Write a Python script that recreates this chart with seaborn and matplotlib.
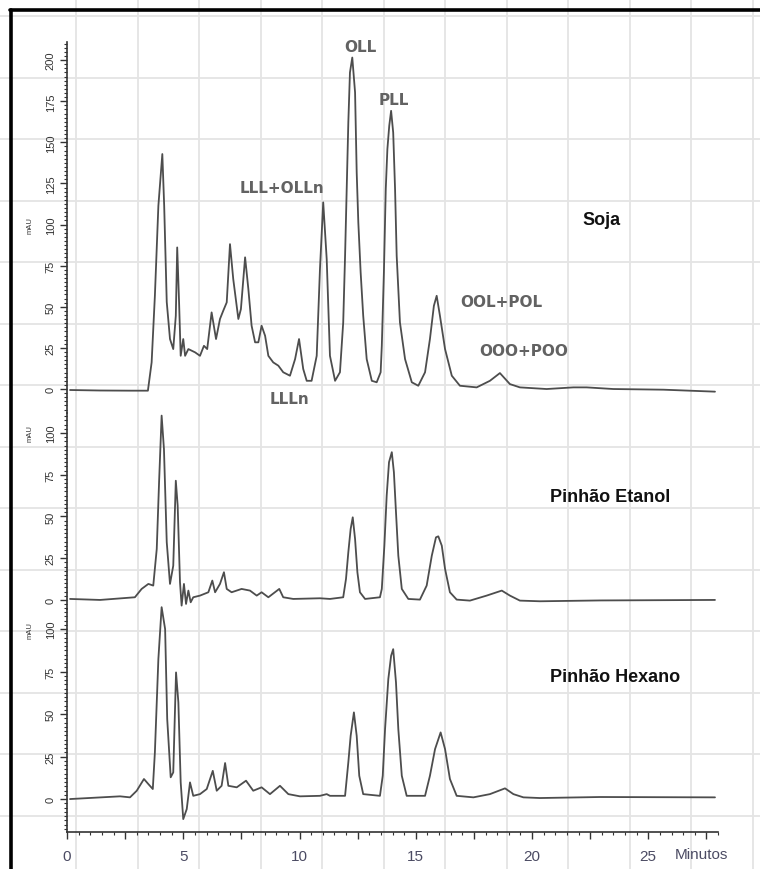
import numpy as np
import pandas as pd
import matplotlib
matplotlib.use('Agg')
import matplotlib.pyplot as plt
import matplotlib.ticker as mticker
import matplotlib.transforms as mtrans
import seaborn as sns

# retention time (min) and absorbance (mAU)
soja_t = [0.13, 1.42, 2.71, 3.48, 3.64, 3.78, 3.93, 4.10, 4.18, 4.29, 4.43, 4.57, 4.68, 4.74, 4.82,
          4.89, 5.00, 5.08, 5.22, 5.51, 5.72, 5.89, 6.03, 6.22, 6.41, 6.58, 6.72, 6.87, 7.01, 7.15,
          7.37, 7.48, 7.66, 7.80, 7.94, 8.09, 8.23, 8.37, 8.52, 8.66, 8.87, 9.09, 9.30, 9.59, 9.81,
          9.98, 10.16, 10.31, 10.52, 10.74, 10.88, 11.02, 11.17, 11.31, 11.53, 11.74, 11.88, 11.96,
          12.03, 12.10, 12.17, 12.27, 12.39, 12.46, 12.53, 12.63, 12.74, 12.89, 13.11, 13.32, 13.49,
          13.54, 13.63, 13.71, 13.78, 13.86, 13.94, 14.03, 14.11, 14.18, 14.32, 14.54, 14.83, 15.11,
          15.40, 15.61, 15.78, 15.90, 16.04, 16.26, 16.55, 16.90, 17.62, 18.19, 18.62, 19.05, 19.48,
          20.63, 21.78, 22.35, 23.50, 25.65, 27.87]
soja_mau = [-0.6, -0.9, -1.0, -1.0, 16.2, 56.7, 111.4, 142.9, 111.4, 52.9, 30.4, 24.3, 44.6, 86.1, 52.9,
            20.2, 30.4, 20.2, 24.3, 22.3, 20.2, 26.3, 24.3, 46.6, 30.4, 42.6, 47.6, 52.7, 88.1, 66.9,
            42.6, 48.6, 80.1, 60.8, 38.5, 28.4, 28.4, 38.5, 32.4, 20.2, 16.2, 14.2, 10.2, 8.1, 18.2,
            30.4, 12.2, 5.0, 5.0, 20.2, 72.9, 113.5, 79.0, 20.2, 5.0, 10.2, 40.5, 81.0,
            121.6, 162.1, 192.5, 201.6, 180.4, 131.7, 101.3, 70.9, 44.6, 18.2, 5.0, 4.1, 10.2,
            26.3, 70.9, 121.6, 145.9, 160.1, 169.2, 156.0, 121.6, 81.0, 40.5, 18.2, 4.1, 2.0,
            10.2, 30.4, 50.6, 56.7, 44.6, 24.3, 8.1, 2.0, 1.0, 5.0, 9.7, 3.0, 1.0,
            0.0, 1.0, 1.0, 0.0, -0.4, -1.6]

etanol_t = [0.13, 1.42, 2.92, 3.21, 3.50, 3.71, 3.86, 3.96, 4.07, 4.17, 4.29, 4.43, 4.57, 4.68, 4.76,
            4.86, 4.93, 5.03, 5.12, 5.22, 5.32, 5.43, 5.72, 6.08, 6.25, 6.37, 6.58, 6.75, 6.87, 7.08,
            7.51, 7.87, 8.16, 8.37, 8.66, 9.13, 9.30, 9.73, 10.88, 11.31, 11.88, 12.00, 12.10, 12.20,
            12.29, 12.39, 12.49, 12.60, 12.82, 13.46, 13.54, 13.65, 13.75, 13.85, 13.97, 14.06, 14.15,
            14.25, 14.40, 14.68, 15.18, 15.47, 15.69, 15.87, 15.97, 16.12, 16.26, 16.47, 16.76, 17.33,
            18.05, 18.70, 19.05, 19.48, 20.34, 22.93, 27.87]
etanol_mau = [0.6, 0.0, 1.6, 6.6, 9.6, 8.6, 30.5, 70.5, 110.4, 90.4, 34.6, 9.6, 20.5, 71.4, 56.5,
              10.6, -3.4, 9.6, -2.4, 5.6, -1.4, 1.6, 2.6, 4.6, 11.6, 4.6, 9.6, 16.6, 6.6, 4.6,
              6.6, 5.6, 2.6, 4.6, 1.6, 6.6, 1.6, 0.6, 1.0, 0.6, 1.6, 12.6, 28.6, 42.5,
              49.5, 36.5, 16.6, 4.6, 0.6, 1.6, 6.6, 32.5, 62.5, 82.5, 88.5, 76.5, 52.5,
              26.5, 6.6, 0.6, 0.2, 8.6, 26.5, 37.5, 38.1, 32.5, 18.6, 4.6, 0.2, -0.4,
              2.6, 5.6, 2.6, -0.4, -0.8, -0.3, 0.0]

hexano_t = [0.13, 2.28, 2.71, 3.00, 3.31, 3.50, 3.69, 3.78, 3.93, 4.07, 4.22, 4.31, 4.46, 4.57, 4.69,
            4.79, 4.89, 5.00, 5.15, 5.29, 5.43, 5.72, 6.01, 6.27, 6.44, 6.65, 6.80, 6.94, 7.30, 7.70,
            8.01, 8.37, 8.73, 9.16, 9.52, 10.02, 10.88, 11.17, 11.31, 11.96, 12.10, 12.20, 12.34, 12.46,
            12.57, 12.74, 13.46, 13.58, 13.68, 13.82, 13.94, 14.03, 14.15, 14.25, 14.40, 14.61, 15.40,
            15.61, 15.83, 16.07, 16.26, 16.47, 16.76, 17.48, 18.19, 18.84, 19.20, 19.63, 20.34, 22.92,
            27.87]
hexano_mau = [0.0, 1.6, 1.0, 4.9, 11.8, 8.8, 5.9, 27.5, 82.4, 112.9, 100.0, 47.1, 12.8, 15.7, 74.5,
              56.9, 9.8, -11.8, -5.9, 9.8, 1.9, 2.9, 5.9, 16.6, 4.9, 7.8, 21.2, 7.8, 6.9, 10.8,
              4.9, 6.9, 2.9, 7.8, 2.9, 1.6, 1.9, 2.9, 1.9, 1.9, 21.6, 37.2, 51.0, 37.2,
              13.7, 2.9, 1.9, 13.7, 41.2, 70.6, 84.3, 88.2, 68.6, 41.2, 13.7, 1.9, 1.9,
              13.7, 29.4, 39.2, 29.4, 11.8, 1.9, 1.0, 2.9, 6.3, 2.9, 1.0, 0.6, 1.2,
              1.0]

sample_names = ['Soja', 'Pinhão Etanol', 'Pinhão Hexano']
ytick_max = [200, 100, 100]

# peak assignments on the soja trace: label, time, mAU
peak_labels = ['OLL', 'PLL', 'LLL+OLLn', 'LLLn', 'OOL+POL', 'OOO+POO']
peak_t = [12.6, 14.04, 9.23, 9.59, 18.67, 19.63]
peak_mau = [208.5, 176.3, 122.8, -5.5, 53.5, 23.7]

sns.set_style('white')
plt.rcParams['font.family'] = ['Liberation Sans', 'DejaVu Sans']

fig = plt.figure(figsize=(7.6, 8.7), dpi=100)

# spreadsheet cells behind the chart
bg = fig.add_axes([0, 0, 1, 1], zorder=0)
bg.set_xlim(0, 760)
bg.set_ylim(870, 0)
bg.axis('off')
for yy in np.arange(17, 870, 61.5):
    bg.axhline(yy, color='#e4e4e4', lw=1.3)
for xx in np.arange(76, 760, 61.5):
    bg.axvline(xx, color='#e4e4e4', lw=1.3)
bg.axhline(11, xmin=10 / 760, color='black', lw=2.6)
bg.axvline(11, ymin=0, ymax=859 / 870, color='black', lw=2.6)

left, width = 67 / 760, 651 / 760
rects = [[left, 0.5241, width, 0.4264],
         [left, 0.2989, width, 0.2253],
         [left, 0.0425, width, 0.2563]]
ylims = [(-14.6, 211), (-5.4, 112), (-19.4, 111.8)]
name_pos = [(22.19, 103.3), (20.77, 61.7), (20.77, 72.4)]
traces = [(soja_t, soja_mau), (etanol_t, etanol_mau), (hexano_t, hexano_mau)]

axes = []
for i, (t, mau) in enumerate(traces):
    ax = fig.add_axes(rects[i], zorder=1)
    ax.set_facecolor('none')
    df = pd.DataFrame({'t': t, 'mAU': mau})
    sns.lineplot(data=df, x='t', y='mAU', ax=ax, color='#4d4d4d', lw=1.3,
                 estimator=None, sort=False, clip_on=False)
    ax.set_xlim(0, 28)
    ax.set_ylim(*ylims[i])
    ax.set_xlabel('')
    ax.set_ylabel('')
    for s in ['top', 'right', 'bottom']:
        ax.spines[s].set_visible(False)
    ax.spines['left'].set_color('#333333')
    ax.spines['left'].set_linewidth(1.2)

    ax.yaxis.set_major_locator(mticker.FixedLocator(range(0, ytick_max[i] + 1, 25)))
    ax.yaxis.set_minor_locator(mticker.MultipleLocator(2.5))
    ax.tick_params(axis='y', which='major', left=True, direction='out', length=5, width=1,
                   labelsize=8, pad=3, colors='#333333', labelrotation=90)
    ax.tick_params(axis='y', which='minor', left=True, direction='out', length=2.5, width=0.8,
                   colors='#333333')
    for lab in ax.get_yticklabels():
        lab.set_va('center')

    ax.text(-0.057, 100, 'mAU', transform=ax.get_yaxis_transform(), rotation=90,
            fontsize=5.5, color='#333333', ha='center', va='center')
    nx, ny = name_pos[i]
    ax.text(nx, ny, sample_names[i], fontsize=13, fontweight='bold', ha='left', va='center',
            color='#111111')
    axes.append(ax)

for ax in axes[:2]:
    ax.tick_params(axis='x', which='both', bottom=False, labelbottom=False)

ax = axes[2]
ax.spines['bottom'].set_visible(True)
ax.spines['bottom'].set_color('#333333')
ax.spines['bottom'].set_linewidth(1.2)
ax.xaxis.set_major_locator(mticker.MultipleLocator(2.5))
ax.xaxis.set_minor_locator(mticker.MultipleLocator(0.5))
ax.xaxis.set_major_formatter(mticker.FuncFormatter(
    lambda v, p: f'{v:g}' if abs(v % 5) < 1e-6 else ''))
ax.tick_params(axis='x', which='major', bottom=True, direction='out', length=5, width=1,
               labelsize=11, pad=7, colors='#333333', labelcolor='#4b4b63')
ax.tick_params(axis='x', which='minor', bottom=True, direction='out', length=2.5, width=0.8,
               colors='#333333')
ax.text(27.3, -0.1, 'Minutos', transform=mtrans.blended_transform_factory(ax.transData, ax.transAxes),
        fontsize=11, color='#4b4b63', ha='center', va='center')

# peak assignments
for lab, pt, pm in zip(peak_labels, peak_t, peak_mau):
    axes[0].text(pt, pm, lab, fontsize=11, fontweight='bold', color='#626262',
                 ha='center', va='center', family='DejaVu Sans')

fig.savefig('out.png', dpi=100)
